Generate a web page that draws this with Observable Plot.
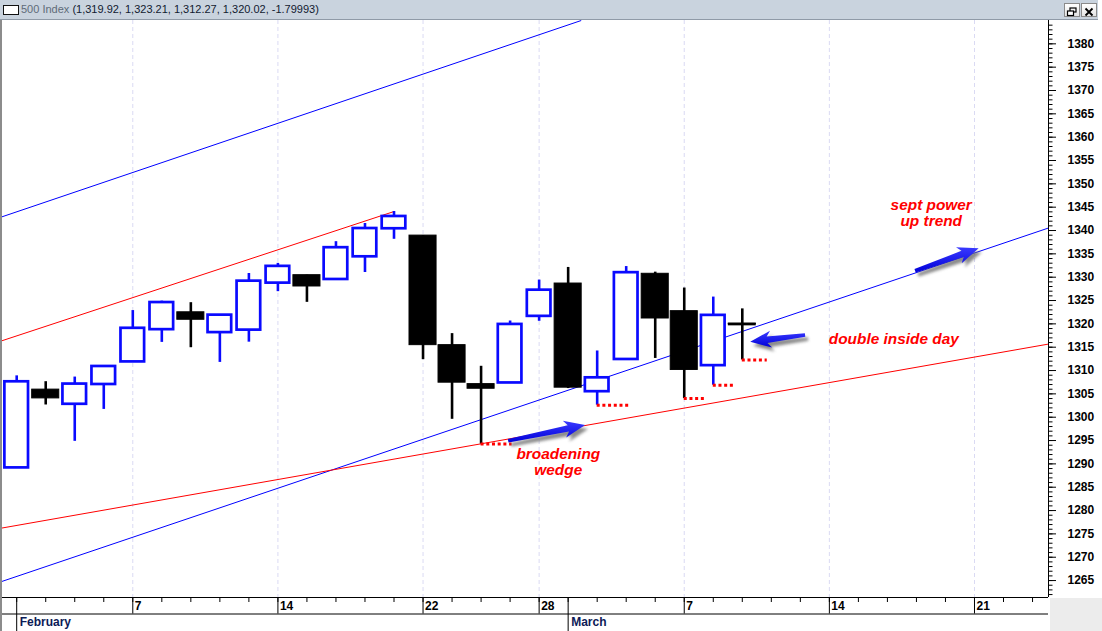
<!DOCTYPE html>
<html>
<head>
<meta charset="utf-8">
<script src="https://cdn.jsdelivr.net/npm/d3@7"></script>
<script src="https://cdn.jsdelivr.net/npm/@observablehq/plot@0.6"></script>
<style>
  html, body { margin: 0; padding: 0; background: #ffffff; }
  #wrap { position: relative; width: 1102px; height: 631px; overflow: hidden; font-family: "Liberation Sans", Arial, sans-serif; background: #fff; }
  #titlebar { position: absolute; left: 0; top: 0; width: 1098px; height: 19px; background: #c9d3de; border-bottom: 1px solid #8f9aa7; }
  #titlebar .icon { position: absolute; left: 3px; top: 5px; width: 14px; height: 8px; background: #fff; border: 1px solid #111; }
  #titlebar .txt { position: absolute; left: 21px; top: 3px; font-size: 11px; line-height: 13px; white-space: nowrap; }
  #titlebar .name { color: #5f6b78; }
  #titlebar .vals { color: #111a30; }
  .btn { position: absolute; top: 3px; width: 14px; height: 12px; background: linear-gradient(#ffffff, #e4e4e4); border: 1px solid #8a8a8a; }
  #chart { position: absolute; left: 0; top: 20px; }
  #leftborder { position: absolute; left: 0; top: 20px; width: 1.5px; height: 611px; background: #8c8c8c; }
  #corner { position: absolute; left: 1050px; top: 598px; width: 52px; height: 33px; background: #ececec; }
</style>
</head>
<body>
<div id="wrap">
  <div id="titlebar">
    <div class="icon"></div>
    <div class="txt"><span class="name">500 Index</span> <span class="vals">(1,319.92, 1,323.21, 1,312.27, 1,320.02, -1.79993)</span></div>
    <div class="btn" style="left:1064px">
      <svg width="14" height="12"><rect x="5" y="2" width="6" height="4" fill="none" stroke="#000" stroke-width="1.2"/><rect x="2.5" y="5" width="6" height="4.5" fill="#fff" stroke="#000" stroke-width="1.2"/></svg>
    </div>
    <div class="btn" style="left:1081px">
      <svg width="14" height="12"><path d="M3.5,2.5 L10.5,9.5 M10.5,2.5 L3.5,9.5" stroke="#000" stroke-width="1.8"/></svg>
    </div>
  </div>
  <div id="chart"></div>
  <div id="leftborder"></div>
  <div id="corner"></div>
</div>
<script>
// ---- data ----
// trading days shown on the axis (Feb 1 .. Mar 23, 2011)
const tradingDays = [
  "2011-02-01","2011-02-02","2011-02-03","2011-02-04",
  "2011-02-07","2011-02-08","2011-02-09","2011-02-10","2011-02-11",
  "2011-02-14","2011-02-15","2011-02-16","2011-02-17","2011-02-18",
  "2011-02-22","2011-02-23","2011-02-24","2011-02-25",
  "2011-02-28","2011-03-01","2011-03-02","2011-03-03","2011-03-04",
  "2011-03-07","2011-03-08","2011-03-09","2011-03-10","2011-03-11",
  "2011-03-14","2011-03-15","2011-03-16","2011-03-17","2011-03-18",
  "2011-03-21","2011-03-22","2011-03-23"
];
const prevClose = 1286.12; // Jan 31 close
const open  = [1289.14,1305.91,1302.77,1307.01,1311.85,1318.76,1322.48,1318.13,1318.66,1328.73,1330.43,1329.51,1334.37,1340.38,1338.91,1315.44,1307.09,1307.34,1321.61,1328.64,1305.47,1312.37,1330.73,1322.72,1311.05,1319.92];
const high  = [1308.86,1307.61,1308.60,1311.00,1322.85,1324.87,1324.54,1322.01,1330.79,1332.96,1330.43,1337.61,1341.50,1344.07,1338.91,1317.91,1310.91,1320.61,1329.38,1332.09,1314.19,1332.28,1331.08,1327.68,1325.74,1323.21];
const low   = [1289.14,1302.62,1294.83,1301.67,1311.85,1316.03,1314.89,1311.74,1316.08,1326.90,1324.61,1329.51,1331.00,1338.12,1312.33,1299.55,1294.26,1307.34,1320.55,1306.14,1302.58,1312.37,1312.59,1303.99,1306.86,1312.27];
const close = [1307.59,1304.03,1307.10,1310.87,1319.05,1324.57,1320.88,1321.87,1329.15,1332.32,1328.01,1336.32,1340.43,1343.01,1315.44,1307.40,1306.10,1319.88,1327.22,1306.33,1308.44,1330.97,1321.15,1310.13,1321.82,1320.02];

// axis labels
const dayLabels = [["2011-02-07","7"],["2011-02-14","14"],["2011-02-22","22"],["2011-02-28","28"],["2011-03-07","7"],["2011-03-14","14"],["2011-03-21","21"]];
const monthLabels = [["2011-02-01","February"],["2011-03-01","March"]];
const yTickValues = [1265,1270,1275,1280,1285,1290,1295,1300,1305,1310,1315,1320,1325,1330,1335,1340,1345,1350,1355,1360,1365,1370,1375,1380];

// trend lines, in (trading-day index, price)
const blueLines = [
  {x1: -0.558, y1: 1342.83, x2: 19.45, y2: 1385.0},
  {x1: -0.558, y1: 1264.71, x2: 35.55, y2: 1340.54}
];
const redLines = [
  {x1: -0.558, y1: 1316.28, x2: 13, y2: 1344.07},
  {x1: -0.558, y1: 1276.20, x2: 35.55, y2: 1315.67}
];
// dotted low markers: date of the candle whose low is marked, and how many days it runs
const lowMarkDates = ["2011-02-24","2011-03-02","2011-03-07","2011-03-08","2011-03-09"];
const lowMarkDays  = [1.07, 1.1, 0.76, 0.74, 0.86];
// annotation arrows (tail -> tip) and notes
const arrows = [
  {x1: 16.95, y1: 1294.86, x2: 19.60, y2: 1298.23},
  {x1: 30.97, y1: 1331.28, x2: 33.16, y2: 1336.08},
  {x1: 27.18, y1: 1317.50, x2: 25.29, y2: 1316.07}
];
const notes = [
  {x: 18.66, y: 1290.5, text: "broadening\nwedge"},
  {x: 31.51, y: 1343.8, text: "sept power\nup trend"},
  {x: 30.22, y: 1316.7, text: "double inside day"}
];

// ---- build ----
const idxOf = d => tradingDays.indexOf(d);
const candles = open.map((o, i) => ({
  i, open: o, high: high[i], low: low[i], close: close[i],
  up: close[i] >= (i ? close[i - 1] : prevClose)
}));
const ups = candles.filter(d => d.up);
const downs = candles.filter(d => !d.up);
const dojis = candles.filter(d => Math.abs(d.close - d.open) < 0.3);
const lowMarks = lowMarkDates.map((d, k) => ({i: idxOf(d), price: low[idxOf(d)], len: lowMarkDays[k]}));
const dayIdx = tradingDays.map((d, i) => i);
const labelIdx = dayLabels.map(d => idxOf(d[0]));
const labelMap = new Map(dayLabels.map(d => [idxOf(d[0]), d[1]]));
const monthIdx = monthLabels.map(d => idxOf(d[0]));
const monthMap = new Map(monthLabels.map(d => [idxOf(d[0]), d[1]]));
const yMinor = d3.range(1262, 1385, 1);

const BLUE = "#0a0aff";
const xDomain = [-0.558, 35.55];
const yDomain = [1261.37, 1385];
const font = {fontSize: 12, fontWeight: "bold"};

const chart = Plot.plot({
  width: 1102, height: 611,
  marginLeft: 0, marginRight: 54, marginTop: 0, marginBottom: 34,
  x: {type: "linear", domain: xDomain},
  y: {type: "linear", domain: yDomain},
  style: {fontFamily: "'Liberation Sans', Arial, sans-serif", background: "#ffffff", color: "#000000", overflow: "visible"},
  marks: [
    Plot.ruleX(labelIdx, {stroke: "#dadaf3", strokeDasharray: "4,3", strokeWidth: 1}),
    Plot.link(blueLines, {x1: "x1", y1: "y1", x2: "x2", y2: "y2", stroke: "#0000ff", strokeWidth: 1}),
    Plot.link(redLines, {x1: "x1", y1: "y1", x2: "x2", y2: "y2", stroke: "#ff0000", strokeWidth: 1}),
    Plot.ruleX(candles, {x: "i", y1: "low", y2: "high", stroke: d => d.up ? BLUE : "#000000", strokeWidth: 2.6}),
    Plot.rect(ups, {x1: d => d.i - 0.407, x2: d => d.i + 0.407, y1: "open", y2: "close", fill: "#ffffff", stroke: BLUE, strokeWidth: 2.7}),
    Plot.rect(downs, {x1: d => d.i - 0.466, x2: d => d.i + 0.466, y1: "open", y2: "close", fill: "#000000", stroke: "#000000", strokeWidth: 1}),
    Plot.ruleY(dojis, {y: d => (d.open + d.close) / 2, x1: d => d.i - 0.48, x2: d => d.i + 0.48, stroke: "#000000", strokeWidth: 2.7}),
    Plot.ruleY(lowMarks, {y: "price", x1: "i", x2: d => d.i + d.len, stroke: "#ff0000", strokeWidth: 3, strokeDasharray: "3,2.7"}),
    Plot.text(notes, {x: "x", y: "y", text: "text", fill: "#ff0000", fontSize: 15.4, fontWeight: "bold", fontStyle: "italic", lineHeight: 1.04, textAnchor: "middle"}),
    // right price axis
    Plot.ruleX([xDomain[1]], {stroke: "#000000", strokeWidth: 1}),
    Plot.axisY(yMinor, {anchor: "right", tickSize: 3.5, tickFormat: () => "", label: null}),
    Plot.axisY(yTickValues, {anchor: "right", tickSize: 7, tickPadding: 12, tickFormat: d => String(d), label: null, ...font}),
    // bottom date axis
    Plot.ruleY([yDomain[0]], {stroke: "#000000", strokeWidth: 1}),
    Plot.ruleY([yDomain[0]], {stroke: "#000000", strokeWidth: 1, dy: 16.5}),
    Plot.axisX(dayIdx, {tickSize: 5, tickFormat: () => "", label: null}),
    Plot.axisX(labelIdx, {tickSize: 16.5, tickFormat: () => "", label: null}),
    Plot.axisX(labelIdx, {tickSize: 0, tickPadding: 4, textAnchor: "start", dx: 2, tickFormat: d => labelMap.get(d), label: null, ...font}),
    Plot.axisX(monthIdx, {tickSize: 34, tickFormat: () => "", label: null}),
    Plot.axisX(monthIdx, {tickSize: 0, tickPadding: 20, textAnchor: "start", dx: 3, tickFormat: d => monthMap.get(d), label: null, color: "#0d1b57", ...font})
  ]
});

document.getElementById("chart").appendChild(chart);

// arrows drawn through Plot's own scales
const sx = chart.scale("x"), sy = chart.scale("y");
const svg = d3.select(chart);
const defs = svg.append("defs");
defs.append("filter").attr("id", "arrowShadow").attr("x", "-50%").attr("y", "-50%").attr("width", "200%").attr("height", "200%")
  .append("feGaussianBlur").attr("stdDeviation", 1.8);
const grad = defs.append("linearGradient").attr("id", "arrowFill").attr("x1", 0).attr("y1", 0).attr("x2", 0).attr("y2", 1);
grad.append("stop").attr("offset", "0%").attr("stop-color", "#3a3aff");
grad.append("stop").attr("offset", "100%").attr("stop-color", "#0000d8");

function arrowPath(a) {
  const x0 = sx.apply(a.x1), y0 = sy.apply(a.y1), x1 = sx.apply(a.x2), y1 = sy.apply(a.y2);
  const dx = x1 - x0, dy = y1 - y0, L = Math.hypot(dx, dy);
  const ux = dx / L, uy = dy / L, nx = -uy, ny = ux;
  const h = 17, w0 = 1.8, w1 = 3.3, hw = 8.5;
  const bx = x1 - ux * h, by = y1 - uy * h;
  const bbx = x1 - ux * (h + 4), bby = y1 - uy * (h + 4);
  const pts = [
    [x0 + nx * w0, y0 + ny * w0],
    [bx + nx * w1, by + ny * w1],
    [bbx + nx * hw, bby + ny * hw],
    [x1, y1],
    [bbx - nx * hw, bby - ny * hw],
    [bx - nx * w1, by - ny * w1],
    [x0 - nx * w0, y0 - ny * w0]
  ];
  return "M" + pts.map(p => p[0].toFixed(2) + "," + p[1].toFixed(2)).join("L") + "Z";
}
const ga = svg.append("g").attr("class", "arrows");
ga.selectAll("path.shadow").data(arrows).join("path").attr("class", "shadow")
  .attr("d", arrowPath).attr("fill", "#6e6e6e").attr("opacity", 0.8)
  .attr("transform", "translate(3,4)").attr("filter", "url(#arrowShadow)");
ga.selectAll("path.arrow").data(arrows).join("path").attr("class", "arrow")
  .attr("d", arrowPath).attr("fill", "url(#arrowFill)");
</script>
</body>
</html>
